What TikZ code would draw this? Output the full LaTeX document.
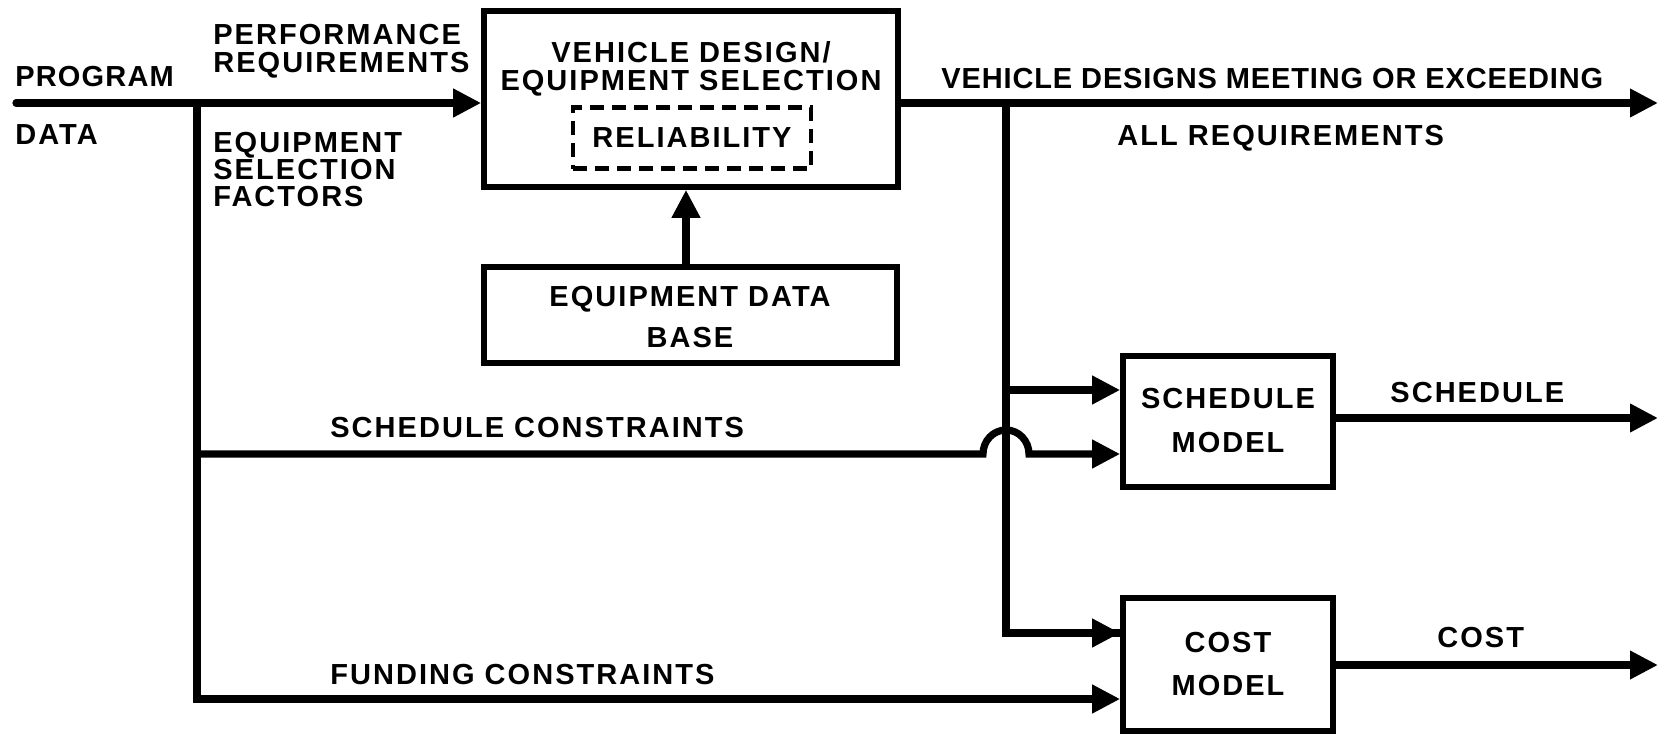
\documentclass[tikz,border=0pt]{standalone}
\usepackage{fontspec}
\setmainfont{Liberation Sans}[LetterSpace=7]
\usetikzlibrary{arrows.meta}
\begin{document}
\begin{tikzpicture}[x=0.5pt,y=-0.5pt,
  box/.style={draw, line width=2.8pt, inner sep=0pt},
  dbox/.style={draw, line width=2.2pt, dash pattern=on 7pt off 4pt, inner sep=0pt},
  txt/.style={inner sep=0pt, font=\fontsize{14.5}{14}\selectfont\bfseries},
  flow/.style={line width=3.6pt, line join=miter},
  arr/.style={flow, -{Triangle[length=14pt,width=13.5pt]}},
]
\useasboundingbox (0,0) rectangle (1661,734);
% boxes
\node[box, minimum width=207pt, minimum height=88pt] (vd) at (691,99) {};
\node[dbox, txt, minimum width=119pt, minimum height=30.5pt] (rel) at (692,138) {RELIABILITY};
\node[box, minimum width=206.5pt, minimum height=48pt] (db) at (690.5,315) {};
\node[box, minimum width=105pt, minimum height=65.5pt] (sm) at (1228,421.5) {};
\node[box, minimum width=105pt, minimum height=66.5pt] (cm) at (1228,664.5) {};
% box texts
\node[txt, align=center] (vdt) at (691,69) {VEHICLE DESIGN/\\[0pt]EQUIPMENT SELECTION};
\node[txt, align=center, font=\fontsize{14.5}{20.5}\selectfont\bfseries] (dbt) at (690,317) {EQUIPMENT DATA\\BASE};
\node[txt, align=center, font=\fontsize{14.5}{22}\selectfont\bfseries] (smt) at (1228,421) {SCHEDULE\\MODEL};
\node[txt, align=center, font=\fontsize{14.5}{21.5}\selectfont\bfseries] (cmt) at (1228,664) {COST\\MODEL};
% labels
\node[txt, anchor=west] (lprog) at (15,77) {\addfontfeature{LetterSpace=4}PROGRAM};
\node[txt, anchor=west] (ldata) at (15,135) {DATA};
\node[txt, anchor=west, align=left] (lperf) at (213,51) {PERFORMANCE\\REQUIREMENTS};
\node[txt, anchor=west, align=left, font=\fontsize{14.5}{13.5}\selectfont\bfseries] (lesf) at (213,170) {EQUIPMENT\\SELECTION\\FACTORS};
\node[txt, anchor=west] (lsc) at (330,428) {SCHEDULE CONSTRAINTS};
\node[txt, anchor=west] (lfc) at (330,675) {FUNDING CONSTRAINTS};
\node[txt, anchor=west] (lvdm) at (941,79) {\addfontfeature{LetterSpace=3}VEHICLE DESIGNS MEETING OR EXCEEDING};
\node[txt, anchor=west] (lall) at (1117,138) {ALL REQUIREMENTS};
\node[txt, anchor=west] (lsch) at (1390,393) {SCHEDULE};
\node[txt, anchor=west] (lcost) at (1437,638) {COST};
% coordinates
\coordinate (pstart) at (16,103);
\coordinate (j1) at (197,103);
\coordinate (j1s) at (197,454);
\coordinate (j1f) at (197,699);
\coordinate (j2) at (1006,103);
\coordinate (j2s) at (1006,390);
\coordinate (j2c) at (1006,633);
\coordinate (oend) at (1658,103);
\coordinate (send) at (1658,418);
\coordinate (cend) at (1658,665);
% connectors
\draw[arr, line cap=round] (pstart) -- (pstart -| vd.west);
\draw[arr] (j1) -- (j1f) -- (j1f -| cm.west);
\draw[arr] (j1s) -- (983,454) arc[start angle=180, end angle=0, x radius=11.5pt, y radius=12pt] -- (j1s -| sm.west);
\draw[arr] (vd.east |- j2) -- (oend);
\draw[flow] (j2) -- (j2c) -- (j2c -| cm.west);
\draw[arr] (j2c) -- (j2c -| cm.west);
\draw[arr] (j2s) -- (j2s -| sm.west);
\draw[arr] (db.north -| 686,0) -- (vd.south -| 686,0);
\draw[arr] (sm.east |- send) -- (send);
\draw[arr] (cm.east |- cend) -- (cend);
\end{tikzpicture}
\end{document}
